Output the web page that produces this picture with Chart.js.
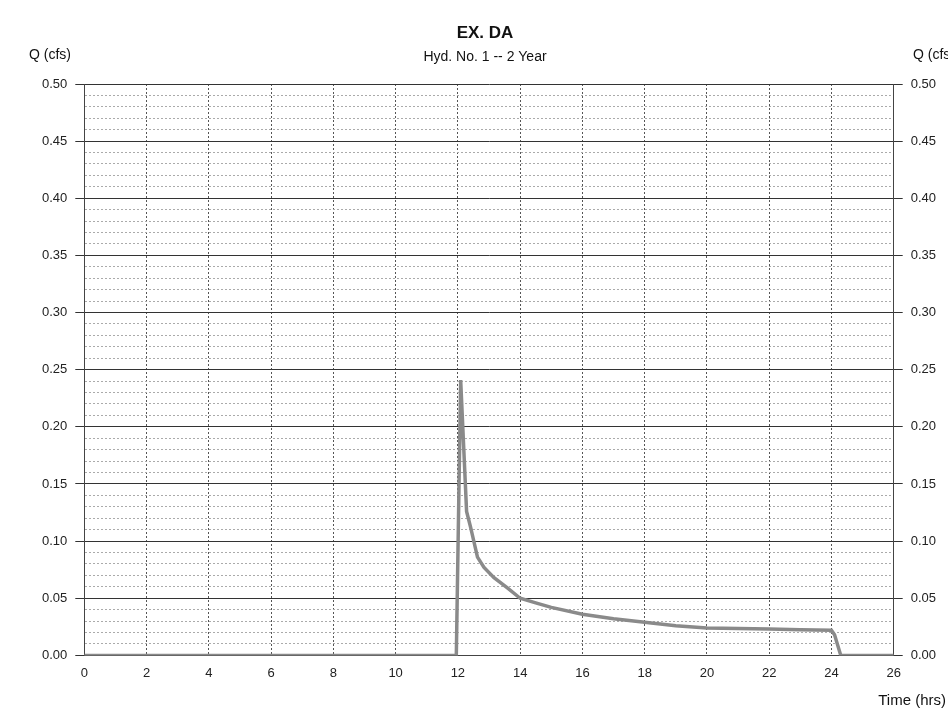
<!DOCTYPE html>
<html lang="en">
<head>
<meta charset="UTF-8">
<title>EX. DA</title>
<style>
  html, body { margin: 0; padding: 0; background: #fff; }
  #wrap { width: 948px; height: 716px; }
</style>
</head>
<body>
<script src="https://cdn.jsdelivr.net/npm/chart.js@4/dist/chart.umd.min.js"></script>
<div id="wrap"><canvas id="chart" width="948" height="716"></canvas></div>
<script>
// hydrograph
const hours = [0, 11.95, 12.09, 12.28, 12.41, 12.63, 12.84, 13.16, 13.59, 14.0, 14.5, 15.0, 16.0, 17.0, 18.0, 19.0, 20.0, 21.0, 22.0, 23.0, 24.0, 24.1, 24.3, 26]
const flow = [0, 0, 0.241, 0.126, 0.112, 0.086, 0.077, 0.068, 0.059, 0.050, 0.046, 0.042, 0.036, 0.032, 0.029, 0.026, 0.024, 0.0235, 0.023, 0.0225, 0.022, 0.018, 0, 0]

const title = 'EX. DA'
const subtitle = 'Hyd. No. 1 -- 2 Year'
const yLabel = 'Q (cfs)'
const xLabel = 'Time (hrs)'

const font = 'Liberation Sans'

const points = hours.map((h, i) => ({ x: h, y: flow[i] }))

// major line every 0.05, minor every 0.01
const isMajor = v => Math.round(v * 100) % 5 === 0

// titles and axis names are plain text around the plot
const textPlugin = {
  id: 'texts',
  afterDraw(chart) {
    const c = chart.ctx
    c.save()
    c.fillStyle = '#111'
    c.textBaseline = 'middle'
    c.textAlign = 'center'
    c.font = 'bold 17px "' + font + '"'
    c.fillText(title, 485, 33)
    c.font = '14px "' + font + '"'
    c.fillText(subtitle, 485, 57)
    c.textAlign = 'left'
    c.fillText(yLabel, 29, 55)
    c.fillText(yLabel, 913, 55)
    c.textAlign = 'right'
    c.font = '15px "' + font + '"'
    c.fillText(xLabel, 946, 701)
    c.restore()
  }
}

const yTicks = {
  autoSkip: false,
  stepSize: 0.01,
  color: '#222',
  font: { family: font, size: 13 },
  padding: 8,
  callback: v => isMajor(v) ? v.toFixed(2) : ''
}

const yTickColor = ctx => isMajor(ctx.tick.value) ? '#333' : 'rgba(0,0,0,0)'

new Chart(document.getElementById('chart'), {
  type: 'scatter',
  data: {
    datasets: [{
      data: points,
      showLine: true,
      borderColor: '#8a8a8a',
      borderWidth: 3.5,
      pointRadius: 0,
      tension: 0
    }]
  },
  plugins: [textPlugin],
  options: {
    responsive: false,
    animation: false,
    layout: { padding: { top: 84, left: 34, right: 4, bottom: 25 } },
    plugins: { legend: { display: false }, tooltip: { enabled: false } },
    scales: {
      x: {
        type: 'linear',
        min: 0,
        max: 26,
        ticks: { stepSize: 2, color: '#222', font: { family: font, size: 13 }, padding: 10 },
        grid: { color: '#555', lineWidth: 1, drawTicks: false },
        border: { display: true, color: '#444', dash: [2, 2] }
      },
      y: {
        min: 0,
        max: 0.5,
        ticks: yTicks,
        grid: {
          color: ctx => isMajor(ctx.tick.value) ? '#333' : '#aaa',
          lineWidth: 1,
          tickLength: 9,
          tickColor: yTickColor
        },
        border: { color: '#444', dash: ctx => isMajor(ctx.tick.value) ? [] : [2, 2] }
      },
      y2: {
        position: 'right',
        min: 0,
        max: 0.5,
        ticks: yTicks,
        grid: { drawOnChartArea: false, tickLength: 9, tickColor: yTickColor },
        border: { color: '#444' }
      }
    }
  }
})
</script>
</body>
</html>
